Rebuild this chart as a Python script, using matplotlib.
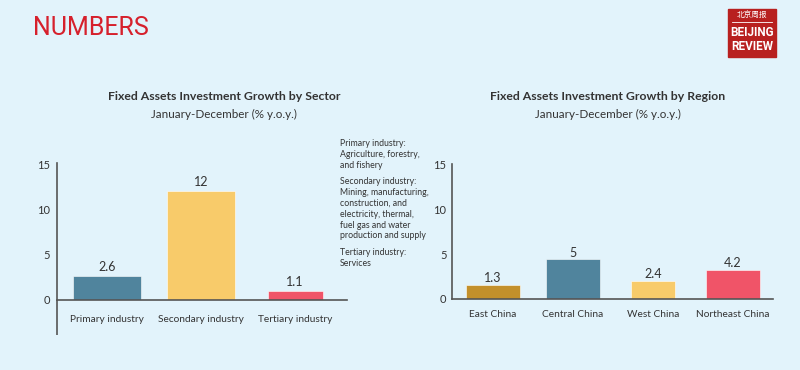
import matplotlib.pyplot as plt
from matplotlib.patches import Rectangle

plt.rcParams['font.family'] = ['Lato', 'DejaVu Sans']

# ---- data ---- #
sectors = ['Primary industry', 'Secondary industry', 'Tertiary industry']
sector_heights = [2.7, 12.1, 1.0]          # bar heights as drawn
sector_labels = ['2.6', '12', '1.1']
sector_colors = ['#50849d', '#f8cb6a', '#f05468']

regions = ['East China', 'Central China', 'West China', 'Northeast China']
region_heights = [1.5, 4.4, 2.0, 3.2]     # bar heights as drawn
region_labels = ['1.3', '5', '2.4', '4.2']
region_colors = ['#c3902b', '#50849d', '#f8cb6a', '#f05468']

yticks = [0, 5, 10, 15]

notes = [
    ['Primary industry:', 'Agriculture, forestry,', 'and fishery'],
    ['Secondary industry:', 'Mining, manufacturing,', 'construction, and',
     'electricity, thermal,', 'fuel gas and water', 'production and supply'],
    ['Tertiary industry:', 'Services'],
]

BG = '#e2f3fb'
TXT = '#333333'
AX = '#555555'
W, H = 800, 370

fig = plt.figure(figsize=(8, 3.7), dpi=100, facecolor=BG)


def px_axes(x0, x1, ytop, ybot):
    return fig.add_axes([x0 / W, 1 - ybot / H, (x1 - x0) / W, (ybot - ytop) / H])


def style(ax, pad_x, pad_y):
    ax.set_facecolor('none')
    for s in ['top', 'right', 'bottom']:
        ax.spines[s].set_visible(False)
    ax.spines['left'].set_color(AX)
    ax.spines['left'].set_linewidth(1.2)
    ax.axhline(0, color=AX, lw=1.2, clip_on=False, zorder=3)
    ax.set_yticks(yticks)
    ax.tick_params(axis='y', length=0, pad=pad_y, labelsize=8, labelcolor=TXT)
    ax.tick_params(axis='x', length=0, pad=pad_x, labelsize=7.3, labelcolor=TXT)


# ---- left chart ---- #
ax1 = px_axes(57, 347, 163, 300)
x1 = range(len(sectors))
b1 = ax1.bar(x1, sector_heights, width=[0.72, 0.72, 0.585], color=sector_colors,
             edgecolor='white', linewidth=0.4, zorder=2)
for rect, lab in zip(b1, sector_labels):
    ax1.text(rect.get_x() + rect.get_width() / 2, rect.get_height() + 0.3, lab,
             ha='center', va='bottom', fontsize=9, color=TXT)
ax1.set_xlim(-0.532, 2.553)
ax1.set_ylim(0, 15.2)
ax1.set_xticks(list(x1))
ax1.set_xticklabels(sectors)
style(ax1, 11, 5)
ax1.plot([0, 0], [0, -0.255], transform=ax1.transAxes, color=AX, lw=1.2,
         clip_on=False, solid_capstyle='butt')

# ---- right chart ---- #
ax2 = px_axes(452, 773, 164, 298.7)
x2 = range(len(regions))
b2 = ax2.bar(x2, region_heights, width=[0.675, 0.675, 0.55, 0.675], color=region_colors,
             edgecolor='white', linewidth=0.4, zorder=2)
for rect, lab in zip(b2, region_labels):
    ax2.text(rect.get_x() + rect.get_width() / 2, rect.get_height() + 0.1, lab,
             ha='center', va='bottom', fontsize=9, color=TXT)
ax2.set_xlim(-0.51, 3.5)
ax2.set_ylim(0, 15.1)
ax2.set_xticks(list(x2))
ax2.set_xticklabels(regions)
style(ax2, 8, 4)

# ---- titles ---- #
fig.text(224 / W, 1 - 97 / H, 'Fixed Assets Investment Growth by Sector',
         ha='center', va='center', fontsize=8.8, fontweight='bold', color=TXT)
fig.text(224 / W, 1 - 114 / H, 'January-December (% y.o.y.)',
         ha='center', va='center', fontsize=8.4, color=TXT)
fig.text(608 / W, 1 - 97 / H, 'Fixed Assets Investment Growth by Region',
         ha='center', va='center', fontsize=8.8, fontweight='bold', color=TXT)
fig.text(608 / W, 1 - 114 / H, 'January-December (% y.o.y.)',
         ha='center', va='center', fontsize=8.4, color=TXT)

# ---- side notes ---- #
y = 144
for group in notes:
    for line in group:
        fig.text(340 / W, 1 - y / H, line, ha='left', va='center',
                 fontsize=6.3, color=TXT)
        y += 10.8
    y += 5.5

# ---- header ---- #
fig.text(33 / W, 1 - 28 / H, 'NUMBERS', ha='left', va='center', fontsize=18,
         color='#d6202c', family=['Liberation Sans Narrow', 'Roboto', 'DejaVu Sans'])

# logo
fig.patches.append(Rectangle((728 / W, 1 - 57 / H), 48 / W, 48 / H,
                             transform=fig.transFigure, color='#b8201f'))
fig.text(752 / W, 1 - 16 / H, '北京周报', ha='center', va='center', fontsize=5.5,
         color='white', family=['Noto Sans CJK SC', 'DejaVu Sans'])
fig.add_artist(plt.Line2D([732 / W, 772 / W], [1 - 22 / H, 1 - 22 / H],
                          transform=fig.transFigure, color='white', lw=0.6))
fig.text(752 / W, 1 - 32 / H, 'BEIJING', ha='center', va='center', fontsize=8.5,
         color='white', fontweight='bold', fontstretch='condensed',
         family=['Liberation Sans Narrow', 'Roboto', 'DejaVu Sans'])
fig.text(752 / W, 1 - 46 / H, 'REVIEW', ha='center', va='center', fontsize=8.5,
         color='white', fontweight='bold', fontstretch='condensed',
         family=['Liberation Sans Narrow', 'Roboto', 'DejaVu Sans'])

fig.savefig('out.png', dpi=100, facecolor=BG)
